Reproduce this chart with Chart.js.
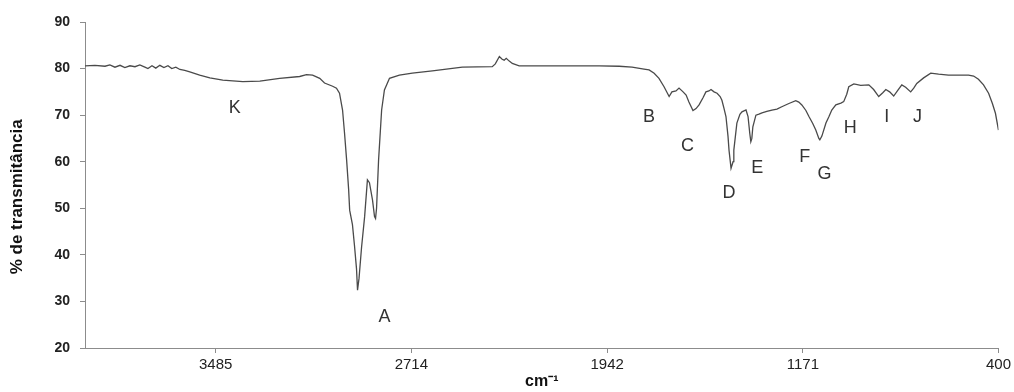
<!DOCTYPE html>
<html>
<head>
<meta charset="utf-8">
<script src="https://cdn.jsdelivr.net/npm/chart.js@4/dist/chart.umd.min.js"></script>
<style>
  html, body { margin: 0; padding: 0; background: #fff; }
  #wrap { width: 1014px; height: 392px; }
</style>
</head>
<body>
<div id="wrap"><canvas id="spectrum"></canvas></div>
<script>
// wavenumber (cm-1) and % transmittance
const wavenumbers = [
  4000, 3961, 3921, 3902, 3882, 3862, 3843, 3823, 3803, 3784, 3764, 3752, 3736, 3721, 3705, 3689, 3673, 3658,
  3642, 3626, 3607, 3587, 3548, 3508, 3457, 3378, 3311, 3233, 3154, 3127, 3103, 3075, 3056, 3024, 3009, 2997,
  2985, 2977, 2969, 2961, 2957, 2946, 2938, 2930, 2926, 2920, 2910, 2898, 2887, 2879, 2867, 2859, 2855, 2851,
  2843, 2831, 2820, 2800, 2761, 2710, 2631, 2513, 2395, 2383, 2367, 2356, 2348, 2340, 2328, 2316, 2289, 2131,
  1974, 1895, 1844, 1797, 1777, 1757, 1738, 1718, 1698, 1687, 1671, 1659, 1643, 1631, 1620, 1604, 1592, 1580,
  1564, 1553, 1541, 1533, 1521, 1509, 1497, 1490, 1482, 1474, 1466, 1462, 1454, 1446, 1443, 1431, 1419, 1411,
  1395, 1387, 1380, 1376, 1372, 1368, 1356, 1344, 1332, 1313, 1293, 1273, 1254, 1226, 1199, 1187, 1175, 1159,
  1147, 1132, 1120, 1108, 1104, 1096, 1080, 1068, 1057, 1041, 1021, 1010, 998, 990, 970, 943, 911, 892,
  872, 856, 844, 829, 813, 797, 781, 766, 746, 734, 722, 695, 667, 636, 597, 557, 518, 498,
  479, 459, 439, 424, 412, 400
];
const transmittance = [
  80.6, 80.7, 80.5, 80.8, 80.3, 80.7, 80.2, 80.6, 80.4, 80.8, 80.3, 80.0, 80.6, 80.1, 80.7, 80.2, 80.6, 80.0,
  80.3, 79.8, 79.6, 79.3, 78.6, 78.0, 77.5, 77.2, 77.3, 77.9, 78.3, 78.7, 78.6, 77.9, 76.9, 76.2, 75.8, 74.7,
  71.1, 66.0, 60.4, 54.0, 49.6, 46.5, 42.0, 37.0, 32.4, 35.0, 41.7, 48.2, 56.1, 55.5, 51.8, 48.2, 47.8, 50.0,
  60.4, 71.1, 75.4, 77.9, 78.6, 79.0, 79.5, 80.3, 80.4, 81.0, 82.6, 82.0, 81.8, 82.2, 81.6, 81.1, 80.6, 80.6,
  80.6, 80.5, 80.3, 79.9, 79.7, 79.0, 77.9, 76.1, 74.0, 75.0, 75.2, 75.8, 75.0, 74.3, 72.8, 71.0, 71.4, 72.2,
  73.8, 75.0, 75.2, 75.5, 75.0, 74.7, 74.0, 73.2, 71.5, 69.7, 65.5, 62.5, 58.6, 60.0, 62.5, 68.3, 70.2, 70.7,
  71.1, 69.7, 66.0, 64.3, 65.0, 67.5, 70.0, 70.2, 70.5, 70.8, 71.1, 71.3, 71.8, 72.5, 73.1, 72.8, 72.2, 71.0,
  69.7, 68.2, 66.8, 65.0, 64.7, 65.5, 68.3, 69.7, 71.1, 72.2, 72.6, 72.9, 74.5, 76.1, 76.7, 76.4, 76.5, 75.5,
  74.0, 74.8, 75.5, 75.0, 74.1, 75.3, 76.5, 76.0, 75.0, 75.8, 76.8, 78.0, 79.0, 78.8, 78.6, 78.6, 78.6, 78.4,
  77.7, 76.5, 74.7, 72.5, 70.4, 66.8
];
const xTicks = [3485, 2714, 1942, 1171, 400];

// band letters, placed in data coordinates
const bandNames = ['K', 'A', 'B', 'C', 'D', 'E', 'F', 'G', 'H', 'I', 'J'];
const bandWn    = [3410, 2820, 1777, 1626, 1462, 1351, 1164, 1086, 984, 840, 719];
const bandT     = [71.5, 26.7, 69.7, 63.4, 53.2, 58.6, 60.9, 57.4, 67.2, 69.7, 69.7];

const bandLetters = {
    id: 'bandLetters',
    afterDatasetsDraw(chart) {
        const {ctx, scales: {x, y}} = chart;
        ctx.save();
        ctx.font = '18px "Liberation Sans", Arial, sans-serif';
        ctx.fillStyle = '#333';
        ctx.textAlign = 'center';
        ctx.textBaseline = 'middle';
        bandNames.forEach((name, i) => {
            ctx.fillText(name, x.getPixelForValue(bandWn[i]), y.getPixelForValue(bandT[i]));
        });
        ctx.restore();
    }
};

const axisColor = '#8c8c8c';

new Chart(document.getElementById('spectrum'), {
    type: 'line',
    data: {
        datasets: [{
            data: wavenumbers.map((w, i) => ({ x: w, y: transmittance[i] })),
            borderColor: '#4a4a4a',
            borderWidth: 1.3,
            pointRadius: 0,
            tension: 0,
            fill: false
        }]
    },
    options: {
        responsive: true,
        maintainAspectRatio: false,
        animation: false,
        events: [],
        layout: { padding: { top: 22, right: 14, bottom: 0, left: 0 } },
        plugins: { legend: { display: false }, tooltip: { enabled: false } },
        scales: {
            x: {
                type: 'linear',
                reverse: true,
                min: 400,
                max: 4000,
                afterBuildTicks: s => { s.ticks = xTicks.map(v => ({ value: v })); },
                afterFit: s => { s.height = 44; },
                border: { color: axisColor, width: 1 },
                grid: { drawOnChartArea: false, drawTicks: true, tickLength: 5, color: axisColor },
                ticks: {
                    autoSkip: false,
                    maxRotation: 0,
                    padding: 3,
                    color: '#222',
                    font: { family: '"Liberation Sans", Arial, sans-serif', size: 15 },
                    callback: v => String(v)
                },
                title: {
                    display: true,
                    text: 'cm\u207B\u00B9',
                    color: '#111',
                    padding: { top: 0, bottom: 1 },
                    font: { family: '"Liberation Sans", Arial, sans-serif', size: 16, weight: 'bold' }
                }
            },
            y: {
                min: 20,
                max: 90,
                afterFit: s => { s.width = 85; },
                border: { color: axisColor, width: 1 },
                grid: { drawOnChartArea: false, drawTicks: true, tickLength: 5, color: axisColor },
                ticks: {
                    stepSize: 10,
                    padding: 10,
                    color: '#222',
                    font: { family: '"Liberation Sans", Arial, sans-serif', size: 14, weight: 'bold' }
                },
                title: {
                    display: true,
                    text: '% de transmitância\u00a0\u00a0\u00a0\u00a0\u00a0',
                    color: '#111',
                    padding: { top: 7, bottom: 0 },
                    font: { family: '"Liberation Sans", Arial, sans-serif', size: 17, weight: 'bold' }
                }
            }
        }
    },
    plugins: [bandLetters]
});
</script>
</body>
</html>
